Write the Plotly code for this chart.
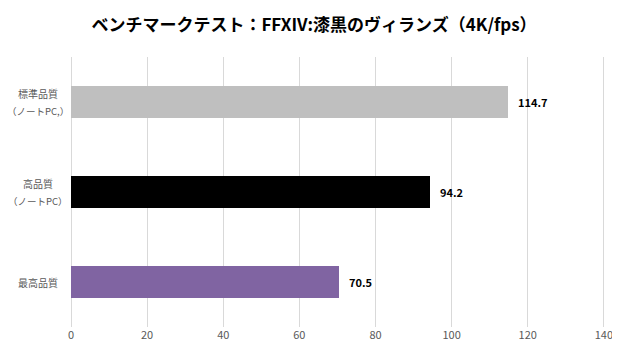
import plotly.graph_objects as go

categories = ["標準品質<br>（ノートPC,）", "高品質<br>（ノートPC）", "最高品質"]
values = [114.7, 94.2, 70.5]
colors = ["#BFBFBF", "#000000", "#8064A2"]
tick_vals = [0, 20, 40, 60, 80, 100, 120, 140]

font_family = "Noto Sans CJK JP, Meiryo, sans-serif"

fig = go.Figure(go.Bar(
    x=values,
    y=categories,
    orientation="h",
    marker=dict(color=colors, line=dict(width=0)),
    width=0.345,
    textposition="none",
    cliponaxis=False,
    hoverinfo="x+y",
))

annotations = []
for cat, v in zip(categories, values):
    annotations.append(dict(
        x=v, y=cat, xref="x", yref="y", text=f"<b>{v}</b>",
        showarrow=False, xanchor="left", xshift=8,
        font=dict(size=11, color="#000000", family=font_family),
    ))
    lines = cat.split("<br>")
    n = len(lines)
    for i, line in enumerate(lines):
        shift = (n - 1) * 8.5 - i * 17
        annotations.append(dict(
            x=-0.061, y=cat, xref="paper", yref="y", text=line,
            showarrow=False, xanchor="center", align="center", yshift=shift,
            font=dict(size=10 if i == 0 else 9.5, color="#595959", family=font_family),
        ))

fig.update_layout(
    width=612, height=347,
    margin=dict(l=63, r=15, t=49, b=28, autoexpand=False),
    paper_bgcolor="white", plot_bgcolor="white",
    title=dict(text="<b>ベンチマークテスト：FFXIV:漆黒のヴィランズ（4K/fps）</b>",
               x=0.5, xanchor="center", y=0.95, yanchor="middle",
               font=dict(size=17, color="#000000", family=font_family)),
    showlegend=False,
    bargap=0.0,
    annotations=annotations,
)
fig.update_xaxes(
    range=[0, 140.3], tickvals=tick_vals, showgrid=True, gridcolor="#D9D9D9", gridwidth=1,
    zeroline=True, zerolinecolor="#D9D9D9", zerolinewidth=1,
    showline=False, ticks="", ticklen=0, automargin=False,
    tickfont=dict(size=11, color="#595959", family=font_family),
)
fig.update_yaxes(
    autorange="reversed", showgrid=False, showline=False, ticks="",
    showticklabels=False, automargin=False,
)

fig.write_html("out.html")
